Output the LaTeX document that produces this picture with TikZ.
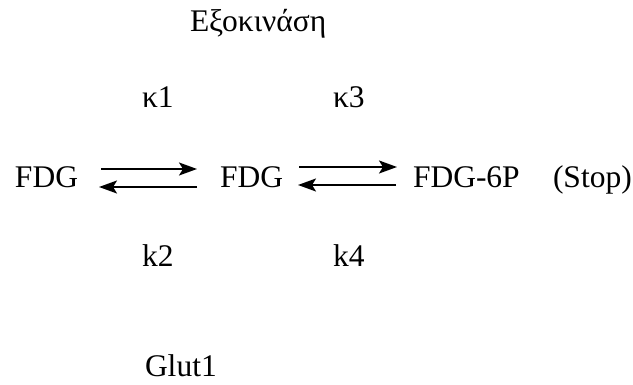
\documentclass[tikz,border=0pt]{standalone}
\usepackage{fontspec}
\setmainfont{Liberation Serif}
\usetikzlibrary{arrows.meta}
\begin{document}
\begin{tikzpicture}[x=1pt,y=-1pt,
  lbl/.style={inner sep=0pt,outer sep=0pt,anchor=base west,font=\fontsize{31.5}{36}\selectfont},
  arr/.style={line width=2pt,-{Stealth[length=18pt,width=13pt,inset=4pt]}}]
\useasboundingbox (0,0) rectangle (633,385);
\node[lbl] (title) at (190,32) {Εξοκινάση};
\node[lbl] (ka) at (142,108) {κ1};
\node[lbl] (kc) at (333,108) {κ3};
\node[lbl] (fdga) at (15,188) {FDG};
\node[lbl] (fdgb) at (220,188) {FDG};
\node[lbl] (fdgc) at (413,188) {FDG-6P};
\node[lbl] (stop) at (553,188) {(Stop)};
\node[lbl] (kb) at (142,267) {k2};
\node[lbl] (kd) at (333,267) {k4};
\node[lbl] (glut) at (145,377) {Glut1};
\draw[arr,shorten <=23pt,shorten >=23pt] ([yshift=19pt]fdga.base east) -- ([yshift=19pt]fdgb.base west);
\draw[arr,shorten <=23pt,shorten >=21pt] ([yshift=1pt]fdgb.base west) -- ([yshift=1pt]fdga.base east);
\draw[arr,shorten <=16pt,shorten >=16pt] ([yshift=21pt]fdgb.base east) -- ([yshift=21pt]fdgc.base west);
\draw[arr,shorten <=17pt,shorten >=15pt] ([yshift=3pt]fdgc.base west) -- ([yshift=3pt]fdgb.base east);
\end{tikzpicture}
\end{document}
